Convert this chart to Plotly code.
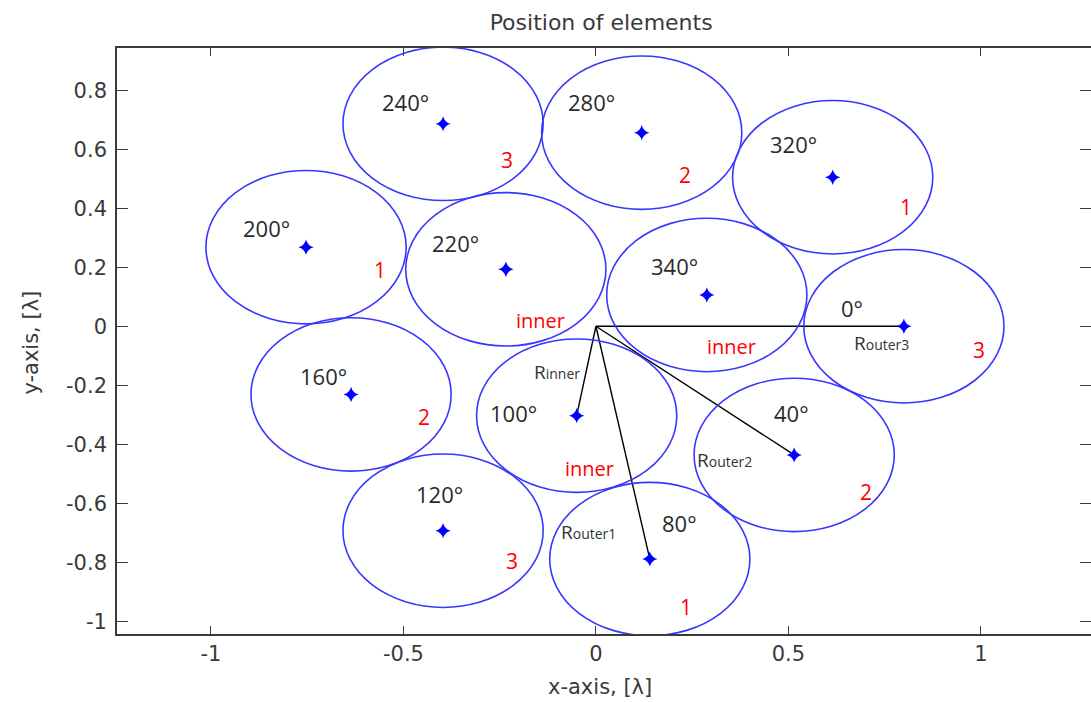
import plotly.graph_objects as go

# ---- data ----
angle_labels = ["0°", "40°", "80°", "100°", "120°", "160°", "200°", "220°", "240°", "280°", "320°", "340°"]
elem_x = [0.800, 0.515, 0.140, -0.050, -0.397, -0.636, -0.753, -0.234, -0.397, 0.119, 0.615, 0.288]
elem_y = [0.000, -0.436, -0.789, -0.303, -0.693, -0.231, 0.268, 0.193, 0.686, 0.656, 0.505, 0.106]
circle_radius = 0.26

ring_labels = ["3", "2", "1", "inner", "3", "2", "1", "inner", "3", "2", "1", "inner"]

# annotation anchor positions (data units)
angle_lab_x = [0.664, 0.508, 0.218, -0.215, -0.406, -0.708, -0.855, -0.364, -0.495, -0.011, 0.512, 0.205]
angle_lab_y = [0.061, -0.295, -0.668, -0.295, -0.569, -0.170, 0.332, 0.282, 0.761, 0.761, 0.618, 0.204]
ring_lab_x = [0.995, 0.701, 0.234, -0.016, -0.217, -0.446, -0.561, -0.145, -0.232, 0.231, 0.805, 0.352]
ring_lab_y = [-0.080, -0.561, -0.951, -0.481, -0.796, -0.308, 0.191, 0.019, 0.564, 0.513, 0.405, -0.069]

radius_targets = [0, 1, 2, 3]           # indices of elements joined to origin
radius_names = [("R", "outer3"), ("R", "outer2"), ("R", "outer1"), ("R", "inner")]
radius_lab_x = [0.742, 0.335, -0.020, -0.102]
radius_lab_y = [-0.058, -0.453, -0.696, -0.154]

x_tickvals = [-1, -0.5, 0, 0.5, 1]
x_ticktext = ["-1", "-0.5", "0", "0.5", "1"]
y_tickvals = [0.8, 0.6, 0.4, 0.2, 0, -0.2, -0.4, -0.6, -0.8, -1]
y_ticktext = ["0.8", "0.6", "0.4", "0.2", "0", "-0.2", "-0.4", "-0.6", "-0.8", "-1"]

# ---- figure ----
fig = go.Figure()

BLUE = "rgb(55,55,255)"
AXC = "#3a3a3a"

shapes = []
for cx, cy in zip(elem_x, elem_y):
    shapes.append(dict(type="circle", xref="x", yref="y",
                       x0=cx - circle_radius, x1=cx + circle_radius,
                       y0=cy - circle_radius, y1=cy + circle_radius,
                       line=dict(color=BLUE, width=1.6), layer="above"))

for i in radius_targets:
    fig.add_trace(go.Scatter(x=[0, elem_x[i]], y=[0, elem_y[i]], mode="lines",
                             line=dict(color="black", width=1.4),
                             showlegend=False, hoverinfo="skip"))

fig.add_trace(go.Scatter(x=elem_x, y=elem_y, mode="markers",
                         marker=dict(symbol="star-diamond", size=11, color="blue",
                                     line=dict(width=0)),
                         showlegend=False))

annotations = []
for t, x, y in zip(angle_labels, angle_lab_x, angle_lab_y):
    annotations.append(dict(x=x, y=y, xref="x", yref="y", text=t, showarrow=False,
                            font=dict(family="Open Sans", size=22, color="#2a2a2a")))
for t, x, y in zip(ring_labels, ring_lab_x, ring_lab_y):
    annotations.append(dict(x=x, y=y, xref="x", yref="y", text=t, showarrow=False,
                            font=dict(family="Open Sans", size=20 if t == "inner" else 21,
                                      color="red")))
for (a, b), x, y in zip(radius_names, radius_lab_x, radius_lab_y):
    annotations.append(dict(x=x, y=y, xref="x", yref="y",
                            text=f"{a}<span style='font-size:14px'>{b}</span>",
                            showarrow=False,
                            font=dict(family="Open Sans", size=19, color="#333333")))

# axis titles
annotations.append(dict(x=0.496, y=-0.0904, xref="paper", yref="paper",
                        text="x-axis, [λ]", showarrow=False, yanchor="middle",
                        font=dict(family="DejaVu Sans", size=21, color=AXC)))
annotations.append(dict(x=-0.0887, y=0.4966, xref="paper", yref="paper",
                        text="y-axis, [λ]", showarrow=False, textangle=-90,
                        xanchor="center", yanchor="middle",
                        font=dict(family="DejaVu Sans", size=21, color=AXC)))

fig.update_layout(
    template="none",
    width=1091, height=702,
    margin=dict(l=117, r=0, t=48, b=68, pad=0),
    paper_bgcolor="white", plot_bgcolor="white",
    title=dict(text="Position of elements", x=0.551, xanchor="center",
               y=1 - 22 / 702, yanchor="middle", yref="container",
               font=dict(family="DejaVu Sans", size=22, color=AXC)),
    shapes=shapes,
    annotations=annotations,
    showlegend=False,
)

fig.update_xaxes(range=[-1.244, 1.286], tickvals=x_tickvals, ticktext=x_ticktext,
                 showgrid=False, zeroline=False, showline=True, linecolor=AXC,
                 linewidth=1.6, mirror="ticks", ticks="inside", ticklen=8,
                 tickcolor=AXC, tickwidth=1.4, automargin=False,
                 tickfont=dict(family="DejaVu Sans", size=21, color=AXC))
fig.update_yaxes(range=[-1.043, 0.943], tickvals=y_tickvals, ticktext=y_ticktext,
                 showgrid=False, zeroline=False, showline=True, linecolor=AXC,
                 linewidth=1.6, mirror="ticks", ticks="inside", ticklen=11,
                 tickcolor=AXC, tickwidth=1.4, automargin=False,
                 ticklabelstandoff=4,
                 tickfont=dict(family="DejaVu Sans", size=21, color=AXC))

fig.write_html("out.html")
